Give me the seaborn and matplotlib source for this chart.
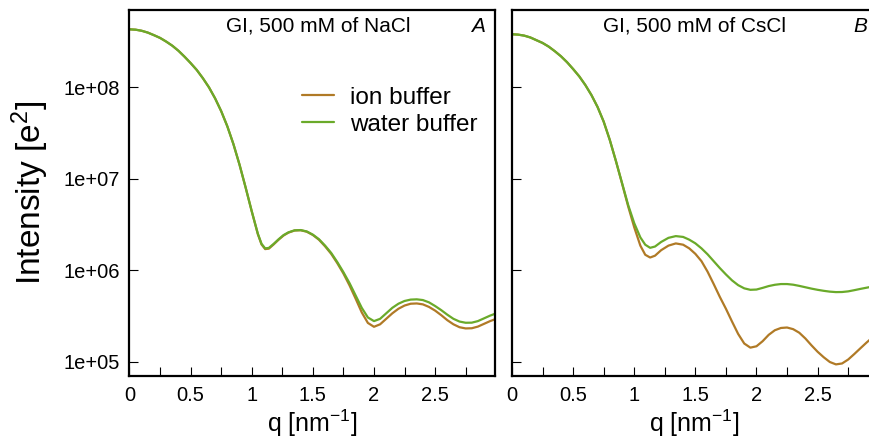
import numpy as np
import pandas as pd
import matplotlib
matplotlib.use("Agg")
import matplotlib.pyplot as plt
import matplotlib.ticker as mticker
import seaborn as sns

# q grid [nm^-1] and log10 intensities
q_a = [0.00, 0.05, 0.10, 0.15, 0.20, 0.25, 0.30, 0.35, 0.40, 0.45, 0.50, 0.55,
       0.60, 0.65, 0.70, 0.75, 0.80, 0.85, 0.90, 0.95, 1.00, 1.05, 1.08, 1.11,
       1.14, 1.18, 1.22, 1.26, 1.30, 1.35, 1.40, 1.45, 1.50, 1.55, 1.60, 1.65,
       1.70, 1.75, 1.80, 1.85, 1.90, 1.95, 2.00, 2.05, 2.10, 2.15, 2.20, 2.25,
       2.30, 2.35, 2.40, 2.45, 2.50, 2.55, 2.60, 2.65, 2.70, 2.75, 2.80, 2.85,
       2.90, 2.95, 3.00]
water_a = [8.634, 8.630, 8.618, 8.598, 8.570, 8.540, 8.500, 8.455, 8.400, 8.335,
           8.265, 8.190, 8.100, 8.000, 7.880, 7.740, 7.575, 7.380, 7.155, 6.905,
           6.645, 6.400, 6.290, 6.240, 6.245, 6.290, 6.340, 6.385, 6.415, 6.437,
           6.440, 6.425, 6.390, 6.340, 6.270, 6.190, 6.090, 5.980, 5.860, 5.725,
           5.590, 5.485, 5.445, 5.470, 5.530, 5.590, 5.635, 5.665, 5.680, 5.683,
           5.675, 5.650, 5.610, 5.565, 5.515, 5.470, 5.440, 5.427, 5.428, 5.445,
           5.475, 5.505, 5.530]
ion_a = [8.634, 8.630, 8.618, 8.598, 8.570, 8.540, 8.500, 8.455, 8.400, 8.335,
         8.265, 8.190, 8.100, 8.000, 7.880, 7.740, 7.575, 7.380, 7.155, 6.905,
         6.645, 6.395, 6.283, 6.232, 6.237, 6.284, 6.335, 6.380, 6.412, 6.435,
         6.438, 6.422, 6.386, 6.334, 6.262, 6.180, 6.078, 5.965, 5.835, 5.690,
         5.540, 5.425, 5.383, 5.410, 5.470, 5.530, 5.580, 5.615, 5.635, 5.638,
         5.628, 5.600, 5.560, 5.510, 5.455, 5.410, 5.378, 5.365, 5.367, 5.385,
         5.415, 5.445, 5.470]

q_b = [0.00, 0.05, 0.10, 0.15, 0.20, 0.25, 0.30, 0.35, 0.40, 0.45, 0.50, 0.55,
       0.60, 0.65, 0.70, 0.75, 0.80, 0.85, 0.90, 0.95, 1.00, 1.05, 1.09, 1.13,
       1.17, 1.22, 1.28, 1.34, 1.40, 1.45, 1.50, 1.55, 1.60, 1.65, 1.70, 1.75,
       1.80, 1.85, 1.90, 1.95, 2.00, 2.05, 2.10, 2.15, 2.20, 2.25, 2.30, 2.35,
       2.40, 2.45, 2.50, 2.55, 2.60, 2.65, 2.70, 2.75, 2.80, 2.85, 2.90, 2.95,
       3.00]
water_b = [8.580, 8.576, 8.565, 8.545, 8.515, 8.485, 8.445, 8.395, 8.340, 8.275,
           8.200, 8.120, 8.025, 7.915, 7.785, 7.625, 7.425, 7.195, 6.955, 6.715,
           6.515, 6.360, 6.280, 6.246, 6.260, 6.310, 6.355, 6.374, 6.365, 6.335,
           6.295, 6.240, 6.175, 6.100, 6.025, 5.955, 5.890, 5.838, 5.803, 5.787,
           5.790, 5.808, 5.828, 5.842, 5.850, 5.850, 5.843, 5.830, 5.815, 5.800,
           5.787, 5.776, 5.767, 5.762, 5.763, 5.770, 5.783, 5.797, 5.810, 5.823,
           5.835]
ion_b = [8.580, 8.576, 8.565, 8.545, 8.515, 8.485, 8.445, 8.395, 8.340, 8.275,
         8.200, 8.120, 8.025, 7.915, 7.785, 7.625, 7.425, 7.195, 6.950, 6.700,
         6.470, 6.270, 6.170, 6.140, 6.160, 6.220, 6.270, 6.294, 6.280, 6.240,
         6.180, 6.100, 5.985, 5.850, 5.710, 5.580, 5.440, 5.305, 5.200, 5.155,
         5.170, 5.225, 5.295, 5.345, 5.370, 5.375, 5.357, 5.318, 5.255, 5.180,
         5.110, 5.050, 4.998, 4.972, 4.982, 5.025, 5.085, 5.148, 5.210, 5.268,
         5.320]

titles = ["GI, 500 mM of NaCl", "GI, 500 mM of CsCl"]
panel_tags = ["A", "B"]
series_names = ["ion buffer", "water buffer"]
colors = {"ion buffer": "#b07a26", "water buffer": "#6aaa2a"}
ytick_vals = [1e5, 1e6, 1e7, 1e8]


def make_frame(q, ion, water):
    rows = []
    for name, vals in zip(series_names, [ion, water]):
        rows.append(pd.DataFrame({"q": q, "I": 10 ** np.array(vals), "buffer": name}))
    return pd.concat(rows, ignore_index=True)


frames = [make_frame(q_a, ion_a, water_a), make_frame(q_b, ion_b, water_b)]

sns.set_theme(style="ticks")
plt.rcParams["font.family"] = ["Liberation Sans", "DejaVu Sans"]
plt.rcParams["mathtext.fontset"] = "custom"
plt.rcParams["mathtext.rm"] = "Liberation Sans"
plt.rcParams["mathtext.it"] = "Liberation Sans:italic"
plt.rcParams["text.color"] = "black"
plt.rcParams["axes.labelcolor"] = "black"
plt.rcParams["xtick.color"] = "black"
plt.rcParams["ytick.color"] = "black"

fig = plt.figure(figsize=(8.7, 4.41), dpi=100)
ax_w, ax_h = 365.5 / 870, 366 / 441
ax_bottom = 1 - 376 / 441
ax_a = fig.add_axes([129.5 / 870, ax_bottom, ax_w, ax_h])
ax_b = fig.add_axes([512 / 870, ax_bottom, ax_w, ax_h])

for i, ax in enumerate([ax_a, ax_b]):
    sns.lineplot(data=frames[i], x="q", y="I", hue="buffer", hue_order=series_names,
                 palette=colors, linewidth=1.6, ax=ax, legend=(i == 0))
    for ln in ax.get_lines():
        ln.set_solid_joinstyle("round")
    ax.set_yscale("log")
    ax.set_xlim(0, 2.99)
    ax.set_ylim(7e4, 7e8)
    ax.yaxis.set_major_locator(mticker.FixedLocator(ytick_vals))
    ax.yaxis.set_minor_locator(mticker.NullLocator())
    ax.yaxis.set_major_formatter(mticker.FuncFormatter(lambda v, p: f"{v:.0e}"))
    ax.xaxis.set_major_locator(mticker.MultipleLocator(0.5))
    ax.xaxis.set_minor_locator(mticker.MultipleLocator(0.25))
    ax.xaxis.set_major_formatter(mticker.FuncFormatter(lambda v, p: f"{v:g}"))
    ax.tick_params(which="both", direction="in", length=6.5, width=0.8,
                   labelsize=14.5, colors="black", pad=7)
    for s in ax.spines.values():
        s.set_linewidth(1.6)
        s.set_color("black")
    ax.set_xlabel("q [nm$^{-1}$]", fontsize=18)
    ax.xaxis.set_label_coords(0.5, -0.085)
    ax.text(0.516 if i == 0 else 0.50, 0.94, titles[i], transform=ax.transAxes,
            ha="center", va="baseline", fontsize=15)
    ax.text(0.972, 0.94, panel_tags[i], transform=ax.transAxes, ha="right",
            va="baseline", fontsize=15, style="italic")

ax_a.set_ylabel("Intensity [e$^2$]", fontsize=24)
ax_a.yaxis.set_label_coords(-0.215, 0.5)
ax_b.set_ylabel("")
ax_b.tick_params(axis="y", which="both", labelleft=False, right=True)

leg = ax_a.legend(loc="upper left", bbox_to_anchor=(0.471, 0.79), frameon=False,
                  fontsize=17.5, handlelength=1.35, handletextpad=0.65,
                  labelspacing=0.2, borderpad=0, borderaxespad=0)
for line in leg.get_lines():
    line.set_linewidth(1.6)

fig.savefig("out.png", dpi=100)
